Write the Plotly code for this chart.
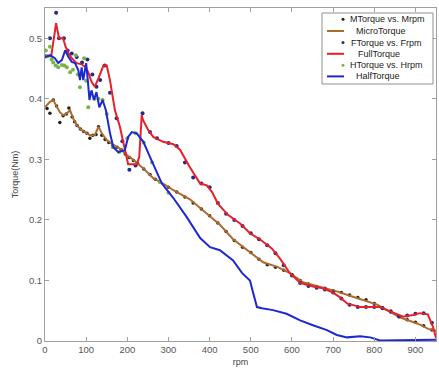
import plotly.graph_objects as go

# ---------------- data ----------------
micro_rpm = [0, 12, 20, 29, 36, 44, 53, 61, 68, 77, 85, 97, 109, 121, 130, 138, 150, 166, 182, 199, 215, 239, 263, 287,
             312, 352, 389, 425, 457, 498, 530, 566, 595, 627, 668, 709, 748, 782, 807, 831, 862, 887, 911, 931, 950]
micro_torque = [0.386, 0.395, 0.398, 0.386, 0.378, 0.373, 0.376, 0.381, 0.368, 0.357, 0.351, 0.345, 0.340, 0.340, 0.354,
                0.343, 0.332, 0.324, 0.318, 0.307, 0.299, 0.285, 0.269, 0.260, 0.249, 0.234, 0.213, 0.192, 0.168,
                0.147, 0.130, 0.122, 0.112, 0.097, 0.089, 0.082, 0.073, 0.066, 0.060, 0.051, 0.039, 0.033, 0.027,
                0.020, 0.017]

m_rpm = [5, 12, 20, 28, 36, 44, 52, 58, 66, 72, 78, 86, 94, 102, 109, 116, 124, 130, 138, 146, 155, 165, 175, 185, 195,
         205, 215, 225, 240, 255, 268, 280, 300, 320, 340, 360, 380, 400, 420, 440, 460, 480, 500, 520, 540, 560, 580,
         600, 620, 640, 660, 680, 700, 720, 740, 760, 780, 800, 820, 840, 860, 880, 900, 920, 940]
m_torque = [0.384, 0.376, 0.398, 0.388, 0.361, 0.372, 0.375, 0.385, 0.370, 0.362, 0.356, 0.350, 0.346, 0.343, 0.335,
            0.340, 0.341, 0.354, 0.340, 0.333, 0.328, 0.323, 0.320, 0.316, 0.309, 0.303, 0.298, 0.293, 0.284, 0.275,
            0.267, 0.262, 0.254, 0.246, 0.238, 0.228, 0.218, 0.207, 0.195, 0.181, 0.166, 0.155, 0.146, 0.135, 0.126,
            0.122, 0.117, 0.110, 0.100, 0.094, 0.090, 0.087, 0.083, 0.080, 0.076, 0.072, 0.068, 0.062, 0.055, 0.048,
            0.040, 0.035, 0.031, 0.025, 0.018]

full_rpm = [0, 15, 27, 34, 44, 50, 57, 65, 77, 89, 97, 105, 113, 121, 130, 142, 150, 158, 170, 182, 190, 197, 202, 223,
            229, 235, 238, 251, 263, 287, 312, 328, 352, 377, 393, 406, 420, 445, 474, 498, 522, 551, 571, 595, 620,
            651, 675, 700, 717, 734, 766, 790, 814, 831, 850, 870, 894, 911, 930, 943, 950]
full_torque = [0.472, 0.470, 0.525, 0.500, 0.500, 0.486, 0.475, 0.467, 0.459, 0.457, 0.453, 0.444, 0.428, 0.420,
               0.434, 0.455, 0.455, 0.430, 0.381, 0.354, 0.329, 0.304, 0.292, 0.292, 0.304, 0.373, 0.365, 0.348,
               0.337, 0.329, 0.325, 0.316, 0.287, 0.260, 0.257, 0.246, 0.227, 0.208, 0.194, 0.178, 0.168, 0.153,
               0.136, 0.112, 0.096, 0.090, 0.087, 0.080, 0.072, 0.062, 0.056, 0.056, 0.056, 0.051, 0.046, 0.040,
               0.043, 0.046, 0.044, 0.023, 0.005]

f_rpm = [0, 12, 27, 34, 46, 55, 65, 77, 90, 103, 115, 125, 134, 145, 158, 174, 188, 205, 220, 237, 255, 272, 300, 320,
         340, 360, 380, 400, 420, 440, 460, 480, 500, 520, 540, 560, 580, 600, 620, 640, 660, 680, 700, 720, 740, 760,
         780, 800, 820, 840, 860, 880, 900, 920, 940]
f_torque = [0.470, 0.500, 0.542, 0.500, 0.500, 0.480, 0.475, 0.469, 0.460, 0.465, 0.440, 0.420, 0.431, 0.455, 0.410,
            0.368, 0.330, 0.283, 0.290, 0.376, 0.345, 0.335, 0.327, 0.322, 0.295, 0.270, 0.260, 0.254, 0.228, 0.210,
            0.200, 0.190, 0.178, 0.168, 0.158, 0.145, 0.125, 0.108, 0.096, 0.091, 0.088, 0.085, 0.080, 0.070, 0.060,
            0.056, 0.056, 0.056, 0.054, 0.049, 0.041, 0.042, 0.045, 0.046, 0.030]

half_rpm = [0, 12, 24, 32, 41, 49, 57, 65, 73, 81, 85, 89, 93, 100, 104, 108, 113, 119, 125, 132, 140, 148, 158, 166,
            178, 194, 202, 211, 223, 239, 255, 272, 284, 311, 344, 377, 401, 425, 457, 479, 498, 506, 515, 527, 554,
            587, 620, 651, 685, 709, 734, 766, 790, 814, 830, 850, 950]
half_torque = [0.469, 0.472, 0.467, 0.459, 0.464, 0.480, 0.469, 0.461, 0.459, 0.447, 0.431, 0.452, 0.431, 0.459,
               0.431, 0.398, 0.414, 0.398, 0.411, 0.386, 0.398, 0.381, 0.343, 0.320, 0.312, 0.315, 0.337, 0.345,
               0.343, 0.329, 0.304, 0.277, 0.260, 0.237, 0.205, 0.170, 0.155, 0.150, 0.133, 0.112, 0.100, 0.079,
               0.056, 0.054, 0.051, 0.045, 0.034, 0.026, 0.018, 0.010, 0.006, 0.008, 0.006, 0.001, 0.001, 0.002,
               0.002]

h_rpm = [2, 6, 12, 16, 20, 26, 32, 41, 47, 53, 61, 68, 75, 80, 85, 95, 100, 105, 110, 120, 130, 140, 150, 165, 180,
         200, 220, 240, 260, 280, 300]
h_torque = [0.480, 0.470, 0.486, 0.465, 0.460, 0.455, 0.452, 0.456, 0.455, 0.452, 0.444, 0.448, 0.472, 0.440, 0.419,
            0.467, 0.430, 0.386, 0.410, 0.400, 0.400, 0.398, 0.375, 0.320, 0.312, 0.335, 0.343, 0.328, 0.295, 0.262,
            0.245]

x_ticks = [0, 100, 200, 300, 400, 500, 600, 700, 800, 900]
y_ticks = [0, 0.1, 0.2, 0.3, 0.4, 0.5]
y_tick_text = ["0", "0.1", "0.2", "0.3", "0.4", "0.5"]

legend_labels = ["MTorque vs. Mrpm", "MicroTorque", "FTorque vs. Frpm", "FullTorque", "HTorque vs. Hrpm", "HalfTorque"]

# ---------------- styles ----------------
C_BROWN = "rgb(172,108,48)"
C_BLACK = "rgb(40,30,25)"
C_RED = "rgb(232,32,40)"
C_NAVY = "rgb(40,40,130)"
C_GREEN = "rgb(120,180,70)"
C_BLUE = "rgb(30,40,210)"
FONT = "Liberation Sans, Arial, sans-serif"
AX = "#a0a0a0"

fig = go.Figure()
fig.add_trace(go.Scatter(x=m_rpm, y=m_torque, mode="markers", marker=dict(color=C_BLACK, size=3.5),
                         name=legend_labels[0], showlegend=False))
fig.add_trace(go.Scatter(x=micro_rpm, y=micro_torque, mode="lines", line=dict(color=C_BROWN, width=2),
                         name=legend_labels[1], showlegend=False))
fig.add_trace(go.Scatter(x=f_rpm, y=f_torque, mode="markers", marker=dict(color=C_NAVY, size=4),
                         name=legend_labels[2], showlegend=False))
fig.add_trace(go.Scatter(x=full_rpm, y=full_torque, mode="lines", line=dict(color=C_RED, width=2),
                         name=legend_labels[3], showlegend=False))
fig.add_trace(go.Scatter(x=h_rpm, y=h_torque, mode="markers", marker=dict(color=C_GREEN, size=4),
                         name=legend_labels[4], showlegend=False))
fig.add_trace(go.Scatter(x=half_rpm, y=half_torque, mode="lines", line=dict(color=C_BLUE, width=2),
                         name=legend_labels[5], showlegend=False))

# ---------------- manual compact legend (MATLAB style) ----------------
L, R, T, B = 45, 3, 8, 33
W, H = 439, 374
pw, ph = W - L - R, H - T - B


def px(xp):
    return (xp - L) / pw


def py(yp):
    return (H - B - yp) / ph


shapes = [dict(type="rect", xref="paper", yref="paper", x0=px(322), x1=px(433), y0=py(84), y1=py(13),
               line=dict(color="#909090", width=1), fillcolor="white", layer="above")]
annotations = []
rows = [19.3, 31.0, 42.5, 53.8, 65.2, 76.4]
text_x = [348, 354, 349, 356, 348, 354]
kinds = [("dot", C_BLACK), ("line", C_BROWN), ("dot", C_NAVY), ("line", C_RED), ("dot", C_GREEN), ("line", C_BLUE)]
for i, (lab, yr) in enumerate(zip(legend_labels, rows)):
    kind, col = kinds[i]
    if kind == "dot":
        shapes.append(dict(type="circle", xref="paper", yref="paper", x0=px(341.5), x1=px(344.5),
                           y0=py(yr + 1.5), y1=py(yr - 1.5), fillcolor=col, line=dict(width=0), layer="above"))
    else:
        shapes.append(dict(type="line", xref="paper", yref="paper", x0=px(327), x1=px(344), y0=py(yr), y1=py(yr),
                           line=dict(color=col, width=2), layer="above"))
    annotations.append(dict(x=px(text_x[i]), y=py(yr), xref="paper", yref="paper", text=lab, showarrow=False,
                            xanchor="left", yanchor="middle", font=dict(family=FONT, size=9, color="#222")))

fig.update_layout(
    width=W, height=H,
    margin=dict(l=L, r=R, t=T, b=B, autoexpand=False),
    paper_bgcolor="white", plot_bgcolor="white",
    font=dict(family=FONT, size=9, color="#555"),
    showlegend=False,
    shapes=shapes,
    annotations=annotations,
    xaxis=dict(range=[0, 950], tickvals=x_ticks, showgrid=False, zeroline=False, showline=True, linecolor=AX,
               linewidth=1, mirror="ticks", ticks="inside", ticklen=4, tickcolor=AX, automargin=False,
               tickfont=dict(size=9.5, color="#555"),
               title=dict(text="rpm", font=dict(size=9, color="#444"), standoff=4)),
    yaxis=dict(range=[0, 0.55], tickvals=y_ticks, ticktext=y_tick_text, showgrid=False, zeroline=False,
               showline=True, linecolor=AX, linewidth=1, mirror="ticks", ticks="inside", ticklen=4, tickcolor=AX,
               automargin=False, tickfont=dict(size=9.5, color="#555"),
               title=dict(text="Torque(Nm)", font=dict(size=9, color="#444"), standoff=8)),
)

fig.write_html("out.html", config={"displayModeBar": False},
               post_script="document.body.style.margin='0';")
